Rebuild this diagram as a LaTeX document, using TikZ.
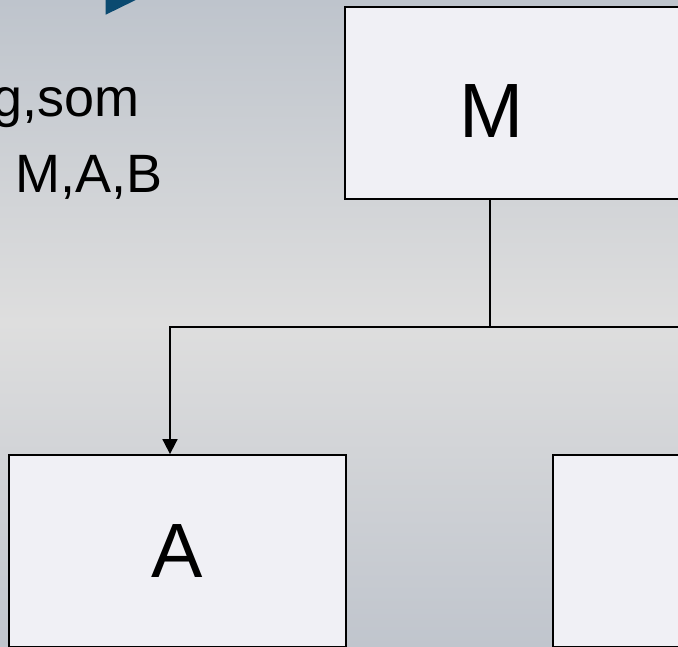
\documentclass[tikz,border=0pt]{standalone}
\usepackage{fontspec}
\setmainfont{Liberation Sans}
\usetikzlibrary{arrows.meta,calc}
\definecolor{slidetop}{RGB}{190,196,204}
\definecolor{slidemid}{RGB}{222,222,222}
\definecolor{slidebot}{RGB}{192,197,205}
\definecolor{boxfill}{RGB}{240,240,245}
\definecolor{deepblue}{RGB}{11,74,112}

\begin{document}
\begin{tikzpicture}[x=1pt,y=1pt,line join=miter,>={Triangle[length=15pt,width=15pt]},
	wire/.style={line width=1.8pt},
	unit/.style={draw=black,line width=1.8pt,fill=boxfill,minimum width=337pt,minimum height=192pt,inner sep=0pt,font=\fontsize{77}{80}\selectfont},
	side/.style={anchor=base east,inner sep=0pt,font=\fontsize{54}{60}\selectfont}]
	\useasboundingbox (0,0) rectangle (678,646);
	\clip (0,0) rectangle (678,646);
	\shade[top color=slidetop,bottom color=slidemid] (0,323) rectangle (678,646);
	\shade[top color=slidemid,bottom color=slidebot] (0,0) rectangle (678,323.5);
	\fill[deepblue] (105.7,646)--(105.7,631.3)--(135.7,646)--cycle;
	\node[side] (som) at (140,529) {g,som};
	\node[side] (mab) at (163,453) {M,A,B};
	\node[unit,label={[font=\fontsize{77}{80}\selectfont,xshift=-21.5pt,yshift=-8pt]center:M}] (M) at (513.5,543) {};
	\node[unit] (A) at (177.5,95) {A};
	\node[unit] (B) at (721.5,95) {};
	\coordinate (split) at (490,319);
	\draw[wire] (M.south -| split)--(split);
	\draw[wire,->] (split) -| ([xshift=-7.5pt]A.north);
	\draw[wire,->] (split) -| ([xshift=-7.5pt]B.north);
\end{tikzpicture}
\end{document}
